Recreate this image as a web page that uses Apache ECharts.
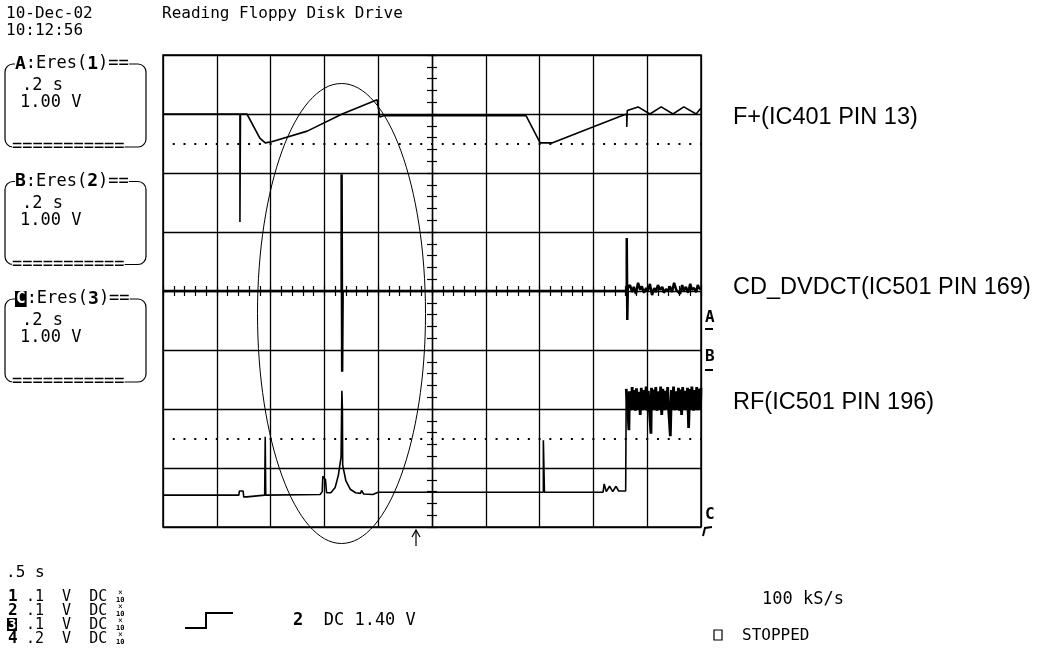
<!DOCTYPE html>
<html>
<head>
<meta charset="utf-8">
<script src="https://cdn.jsdelivr.net/npm/echarts@6/dist/echarts.min.js"></script>
<style>
  html, body { margin: 0; padding: 0; background: #fff; }
  #chart { width: 1046px; height: 653px; }
</style>
</head>
<body>
<div id="chart"></div>
<script>
// all traces in screen divisions: x -5..5 (0.2 s/div), y -4..4 (1 V/div)
const traceA = [
  [-5.00, 3.00], [-3.57, 3.00], [-3.57, 1.17], [-3.56, 3.00], [-3.44, 3.00], [-3.20, 2.59],
  [-3.10, 2.51], [-2.98, 2.53], [-2.32, 2.71], [-1.67, 3.00], [-1.02, 3.24], [-0.97, 2.95],
  [-0.90, 2.97], [1.75, 2.97], [2.01, 2.51], [2.23, 2.51], [2.99, 2.78], [3.55, 2.98],
  [3.62, 3.00], [3.62, 2.78], [3.63, 3.06], [3.83, 3.12], [4.05, 3.00], [4.26, 3.12],
  [4.48, 3.00], [4.68, 3.12], [4.91, 3.00], [5.00, 3.10]
];
const traceB = [
  [-5.00, 0.00], [-1.68, 0.00], [-1.68, 1.98], [-1.67, -1.37], [-1.66, 0.00], [3.62, 0.00],
  [3.62, 0.90], [3.63, -0.49], [3.64, 0.05], [3.68, 0.10], [3.72, -0.02], [3.75, 0.07],
  [3.79, -0.05], [3.83, 0.14], [3.87, 0.02], [3.90, 0.08], [3.94, -0.03], [3.98, 0.05],
  [4.01, 0.00], [4.05, 0.12], [4.09, -0.07], [4.13, 0.05], [4.16, -0.02], [4.20, 0.10],
  [4.24, 0.02], [4.28, 0.07], [4.31, -0.03], [4.35, 0.03], [4.39, 0.00], [4.42, 0.08],
  [4.46, -0.02], [4.50, 0.14], [4.54, 0.02], [4.57, 0.05], [4.61, -0.05], [4.65, 0.10],
  [4.68, 0.00], [4.72, 0.07], [4.76, -0.03], [4.80, 0.12], [4.83, 0.02], [4.87, 0.05],
  [4.91, -0.02], [4.94, 0.10], [4.98, 0.03], [5.00, 0.05]
];
// RF trace: quiet part, then the dense burst after the drive starts reading
const traceC = [
  [-5.00, -3.46], [-3.59, -3.46], [-3.58, -3.39], [-3.51, -3.39], [-3.50, -3.49], [-3.44, -3.49],
  [-3.43, -3.46], [-3.11, -3.46], [-3.10, -2.47], [-3.09, -3.46], [-2.08, -3.45], [-2.04, -3.40],
  [-2.03, -3.14], [-1.98, -3.20], [-1.96, -3.42], [-1.88, -3.42], [-1.80, -3.33], [-1.74, -3.12],
  [-1.69, -2.81], [-1.68, -2.02], [-1.675, -1.69], [-1.665, -2.02], [-1.66, -2.95], [-1.60, -3.22],
  [-1.52, -3.36], [-1.42, -3.42], [-1.33, -3.43], [-1.31, -3.38], [-1.27, -3.44], [-1.10, -3.45],
  [-1.00, -3.41], [2.07, -3.41], [2.07, -2.53], [2.09, -3.41], [3.18, -3.41], [3.20, -3.27],
  [3.24, -3.40], [3.30, -3.31], [3.36, -3.40], [3.42, -3.31], [3.47, -3.39], [3.60, -3.39],
  [3.61, -1.66]
];
const traceCBurst = [
  [3.61, -1.66], [3.62, -1.64], [3.64, -2.00], [3.66, -2.36], [3.67, -1.70], [3.70, -2.02],
  [3.72, -1.63], [3.74, -2.01], [3.76, -1.68], [3.78, -2.03], [3.80, -1.65], [3.83, -2.00],
  [3.85, -1.71], [3.87, -2.10], [3.89, -1.64], [3.91, -2.02], [3.93, -1.68], [3.96, -2.00],
  [3.98, -1.62], [4.00, -2.03], [4.02, -1.69], [4.04, -2.01], [4.07, -2.42], [4.08, -1.64],
  [4.10, -2.02], [4.12, -1.67], [4.14, -2.00], [4.16, -1.63], [4.18, -2.03], [4.21, -1.70],
  [4.23, -2.01], [4.25, -1.62], [4.27, -2.10], [4.29, -1.66], [4.31, -2.02], [4.33, -1.69],
  [4.36, -2.00], [4.38, -1.63], [4.40, -2.03], [4.43, -2.46], [4.45, -1.68], [4.47, -2.01],
  [4.49, -1.62], [4.51, -2.02], [4.54, -1.70], [4.56, -2.00], [4.58, -1.64], [4.60, -2.03],
  [4.62, -1.67], [4.64, -2.10], [4.66, -1.63], [4.68, -2.01], [4.70, -1.69], [4.72, -2.02],
  [4.75, -1.64], [4.77, -2.32], [4.79, -1.66], [4.81, -2.00], [4.83, -1.62], [4.86, -2.03],
  [4.88, -1.68], [4.90, -2.01], [4.92, -1.63], [4.94, -2.02], [4.97, -1.66], [4.99, -2.00],
  [5.00, -1.64]
];
const dotLevels = [2.5, -2.5];
const traceNames = ['F+(IC401 PIN 13)', 'CD_DVDCT(IC501 PIN 169)', 'RF(IC501 PIN 196)'];
const channelRows = [['1', '.1'], ['2', '.1'], ['3', '.1'], ['4', '.2']];

const mono = "'DejaVu Sans Mono', monospace";
const ink = '#000';

function txt(x, y, s, extra) {
  return {
    type: 'text', x: x, y: y, silent: true,
    style: Object.assign({ text: s, font: '16px ' + mono, fill: ink, verticalAlign: 'middle' }, extra || {})
  };
}

const graphics = [];
// header
graphics.push(txt(6, 14, '10-Dec-02'));
graphics.push(txt(6, 31, '10:12:56'));
graphics.push(txt(162, 14, 'Reading Floppy Disk Drive'));

// trace boxes on the left
['A', 'B', 'C'].forEach(function (ch, i) {
  const top = 64 + i * 117.5;
  graphics.push({
    type: 'rect', silent: true,
    shape: { x: 5, y: top, width: 141, height: 83, r: 8 },
    style: { fill: null, stroke: ink, lineWidth: 1.2 }
  });
  const letter = i === 2 ? '{inv|' + ch + '}' : '{b|' + ch + '}';
  graphics.push(txt(15, top, letter + ':Eres({b|' + (i + 1) + '})==', {
    font: '17px ' + mono,
    backgroundColor: '#fff',
    rich: {
      b: { font: 'bold 18px ' + mono, fill: ink },
      inv: { font: 'bold 16px ' + mono, fill: '#fff', backgroundColor: ink, padding: [0, 1] }
    }
  }));
  graphics.push(txt(22, top + 22, '.2 s', { font: '17px ' + mono }));
  graphics.push(txt(20, top + 39, '1.00 V', { font: '17px ' + mono }));
  graphics.push(txt(12, top + 83, '===========', { backgroundColor: '#fff', font: '17px ' + mono }));
});

// bottom-left channel settings
graphics.push(txt(6, 573, '.5 s'));
channelRows.forEach(function (r, i) {
  const y = 597 + i * 14;
  if (i === 2) {
    graphics.push({
      type: 'rect', silent: true,
      shape: { x: 7, y: y - 7, width: 10, height: 13 },
      style: { fill: ink }
    });
    graphics.push(txt(8, y, r[0], { font: 'bold 14px ' + mono, fill: '#fff' }));
  } else {
    graphics.push(txt(8, y, r[0], { font: 'bold 16px ' + mono }));
  }
  graphics.push(txt(26, y, r[1] + '  V  DC', { font: '15px ' + mono }));
  graphics.push(txt(118, y - 4, '×', { font: '8px ' + mono }));
  graphics.push(txt(116, y + 3, '10', { font: 'bold 7px ' + mono }));
});
graphics.push({
  type: 'polyline', silent: true,
  shape: { points: [[185, 628], [206, 628], [206, 613], [233, 613]] },
  style: { stroke: ink, lineWidth: 2, fill: null }
});
graphics.push(txt(293, 621, '{b|2}  DC 1.40 V', {
  font: '17px ' + mono,
  rich: { b: { font: 'bold 17px ' + mono, fill: ink } }
}));
graphics.push(txt(762, 600, '100 kS/s', { font: '17px ' + mono }));
graphics.push({
  type: 'rect', silent: true,
  shape: { x: 714, y: 630, width: 8, height: 10 },
  style: { fill: null, stroke: ink, lineWidth: 1.2 }
});
graphics.push(txt(742, 636, 'STOPPED'));

// trigger arrow under the grid
graphics.push({
  type: 'polyline', silent: true,
  shape: { points: [[416, 546], [416, 531]] },
  style: { stroke: ink, lineWidth: 1.2, fill: null }
});
graphics.push({
  type: 'polyline', silent: true,
  shape: { points: [[412, 537], [416, 530], [420, 537]] },
  style: { stroke: ink, lineWidth: 1.2, fill: null }
});

// ellipse around the glitch
graphics.push({
  type: 'ellipse', silent: true,
  shape: { cx: 341.5, cy: 313.5, rx: 84, ry: 230 },
  style: { fill: null, stroke: ink, lineWidth: 1 }
});

// trace markers at right edge
graphics.push(txt(705, 318, 'A', { font: 'bold 16px ' + mono }));
graphics.push({ type: 'line', silent: true, shape: { x1: 705, y1: 329, x2: 713, y2: 329 }, style: { stroke: ink, lineWidth: 2 } });
graphics.push(txt(705, 357, 'B', { font: 'bold 16px ' + mono }));
graphics.push({ type: 'line', silent: true, shape: { x1: 705, y1: 370, x2: 713, y2: 370 }, style: { stroke: ink, lineWidth: 2 } });
graphics.push(txt(705, 515, 'C', { font: 'bold 16px ' + mono }));
graphics.push({
  type: 'polyline', silent: true,
  shape: { points: [[703, 536], [705, 528], [712, 527]] },
  style: { stroke: ink, lineWidth: 2, fill: null }
});

// trace names
const nameY = [118, 288, 403];
traceNames.forEach(function (n, i) {
  graphics.push(txt(733, nameY[i], n, { font: "23.5px 'Liberation Sans', Arial, sans-serif" }));
});

const chart = echarts.init(document.getElementById('chart'), null, { renderer: 'canvas' });

const tickStyle = { color: ink, width: 1.2 };
function axisPair(min, max, posA, posB) {
  const base = {
    type: 'value', min: min, max: max, interval: 1,
    axisLabel: { show: false },
    axisTick: { show: true, length: 5, lineStyle: tickStyle },
    minorTick: { show: true, splitNumber: 5, length: 5, lineStyle: tickStyle }
  };
  return [
    Object.assign({}, base, {
      position: posA,
      axisLine: { show: true, onZero: true, lineStyle: tickStyle },
      splitLine: { show: true, lineStyle: { color: ink, width: 1.3 } }
    }),
    Object.assign({}, base, {
      position: posB,
      axisLine: { show: true, onZero: true, onZeroAxisIndex: 0, lineStyle: tickStyle },
      splitLine: { show: false }
    })
  ];
}

function trace(data, width, extra) {
  return Object.assign({
    type: 'line', data: data, showSymbol: false, symbol: 'none', silent: true,
    xAxisIndex: 0, yAxisIndex: 0,
    lineStyle: { color: ink, width: width }, z: 5
  }, extra || {});
}

chart.setOption({
  animation: false,
  backgroundColor: '#fff',
  grid: {
    left: 163, top: 55, width: 538, height: 472,
    show: true, borderColor: ink, borderWidth: 1.5, backgroundColor: 'transparent',
    outerBoundsMode: 'none'
  },
  xAxis: axisPair(-5, 5, 'bottom', 'top'),
  yAxis: axisPair(-4, 4, 'left', 'right'),
  series: [
    trace(traceA, 1.6, {
      markLine: {
        silent: true, symbol: ['none', 'none'], label: { show: false },
        lineStyle: { color: ink, type: [2, 8.76], dashOffset: 1, width: 2 },
        data: dotLevels.map(function (v) { return { yAxis: v }; })
      }
    }),
    trace(traceB, 2.5),
    trace(traceC, 1.6),
    trace(traceCBurst, 2.8)
  ],
  graphic: graphics
});
</script>
</body>
</html>
